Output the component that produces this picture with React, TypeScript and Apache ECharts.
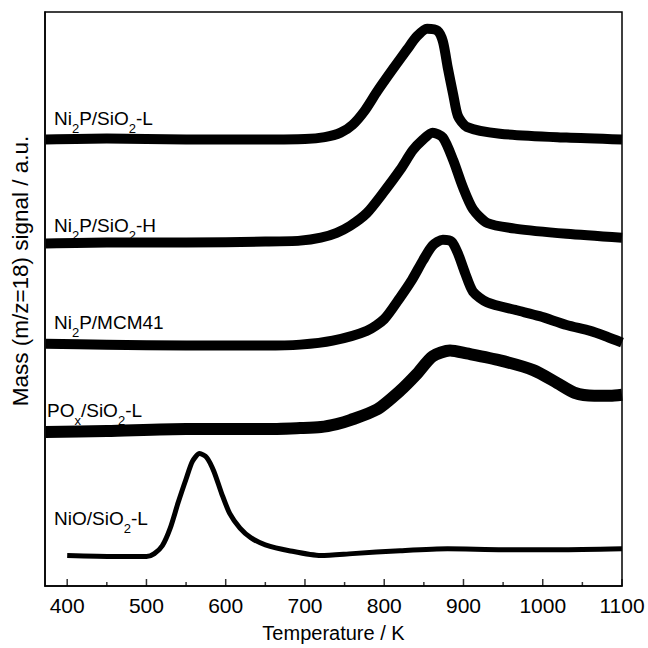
import React, { useEffect, useRef } from "react";
import * as echarts from "echarts";

// Temperature (K) and signal (a.u., stacked offsets)
const tempL = [373, 450, 550, 650, 700, 725, 745, 760, 775, 791, 811, 829, 841, 854, 867, 874, 880, 887, 893, 904, 946, 1030, 1100];
const sigL = [455, 456, 455, 455, 455.5, 457.5, 462, 470, 484, 504, 527, 547, 560, 568, 566, 555, 529, 501, 479, 468, 461, 457, 455];

const tempH = [373, 450, 550, 650, 694, 720, 740, 757, 778, 798, 820, 836, 849, 861, 874, 887, 899, 912, 930, 967, 1030, 1100];
const sigH = [349, 350, 350, 351, 352, 355, 360, 367, 380, 400, 424, 444, 455, 462, 457, 434, 407, 384, 370, 364, 359, 355];

const tempM = [373, 450, 550, 650, 694, 735, 778, 800, 820, 835, 849, 861, 874, 885, 893, 902, 912, 930, 967, 996, 1030, 1060, 1081, 1100];
const sigM = [247, 246, 245, 245, 246, 250, 260, 272, 294, 312, 332, 347, 353, 351, 339, 319, 300, 289, 281, 275, 266, 260, 254, 248];

const tempP = [373, 450, 550, 650, 694, 720, 740, 757, 791, 820, 841, 861, 883, 904, 946, 988, 1018, 1040, 1065, 1085, 1100];
const sigP = [157, 158, 160, 160, 161, 162, 165, 169, 180, 199, 216, 234, 240, 237, 230, 220, 207, 197, 194, 194, 195];

const tempN = [400, 460, 500, 510, 520, 530, 540, 550, 558, 567, 576, 585, 595, 605, 618, 632, 650, 680, 720, 760, 820, 880, 950, 1020, 1100];
const sigN = [31, 30, 30, 33, 41, 59, 85, 109, 127, 135, 131, 117, 94, 74, 59, 49, 42, 36, 31, 33, 36, 38, 37, 37, 38];

const majorTicks = [400, 500, 600, 700, 800, 900, 1000, 1100];
const minorTicks = [450, 550, 650, 750, 850, 950, 1050];

const sampleLabels = [
  "Ni{s|2}P/SiO{s|2}-L",
  "Ni{s|2}P/SiO{s|2}-H",
  "Ni{s|2}P/MCM41",
  "PO{s|x}/SiO{s|2}-L",
  "NiO/SiO{s|2}-L",
];

const FONT = "'Liberation Sans', Arial, sans-serif";

const zip = (xs: number[], ys: number[]) => xs.map((x, i) => [x, ys[i]]);

export default function App() {
  const ref = useRef<HTMLDivElement>(null);
  useEffect(() => {
    document.body.style.margin = "0";
    const chart = echarts.init(ref.current!, null, { renderer: "svg" });
    const lineSeries = (name: string, data: number[][], width: number) => ({
      name,
      type: "line",
      data,
      showSymbol: false,
      symbol: "none",
      smooth: 0.25,
      lineStyle: { color: "#000", width, join: "round", cap: "butt" },
      z: 3,
    });
    const tickSeries = (ticks: number[], len: number) => ({
      type: "scatter",
      data: ticks.map((t) => [t, 0]),
      symbol: "rect",
      symbolSize: [1.5, len],
      symbolOffset: [0, -len / 2],
      itemStyle: { color: "#000" },
      silent: true,
      clip: false,
      z: 5,
    });
    const labelPos = [
      [54, 107],
      [54, 214],
      [54, 311],
      [47, 399],
      [54, 507],
    ];
    chart.setOption({
      animation: false,
      backgroundColor: "#fff",
      grid: { left: 45, right: 26, top: 12, bottom: 51, show: true, borderColor: "#000", borderWidth: 1.5, backgroundColor: "transparent" },
      xAxis: {
        type: "value",
        min: 372,
        max: 1100,
        position: "bottom",
        axisLine: { show: true, lineStyle: { color: "#000", width: 1.5 } },
        axisTick: { show: false },
        axisLabel: { customValues: majorTicks, fontSize: 21, color: "#000", fontFamily: FONT, margin: 9, formatter: (v: number) => String(v) },
        splitLine: { show: false },
        name: "Temperature / K",
        nameLocation: "middle",
        nameGap: 37,
        nameTextStyle: { fontSize: 20, color: "#000", fontFamily: FONT },
      },
      yAxis: {
        type: "value",
        min: 0,
        max: 585,
        axisLine: { show: true, lineStyle: { color: "#000", width: 1.5 } },
        axisTick: { show: false },
        axisLabel: { show: false },
        splitLine: { show: false },
        name: "Mass (m/z=18) signal / a.u.",
        nameLocation: "middle",
        nameGap: 13,
        nameTextStyle: { fontSize: 22.5, color: "#000", fontFamily: FONT, padding: [0, 0, 0, 56] },
      },
      series: [
        lineSeries("Ni2P/SiO2-L", zip(tempL, sigL), 10),
        lineSeries("Ni2P/SiO2-H", zip(tempH, sigH), 10),
        lineSeries("Ni2P/MCM41", zip(tempM, sigM), 10),
        lineSeries("POx/SiO2-L", zip(tempP, sigP), 12),
        lineSeries("NiO/SiO2-L", zip(tempN, sigN), 5),
        tickSeries(majorTicks, 7),
        tickSeries(minorTicks, 4),
      ],
      graphic: sampleLabels.map((t, i) => ({
        type: "text",
        x: labelPos[i][0],
        y: labelPos[i][1],
        z: 10,
        style: {
          text: t,
          fill: "#000",
          fontSize: 19,
          fontFamily: FONT,
          verticalAlign: "top",
          align: "left",
          lineHeight: 22,
          rich: {
            s: { fontSize: 13, lineHeight: 13, padding: [15, 0, 0, 0], verticalAlign: "top", fontFamily: FONT, fill: "#000" },
          },
        },
      })),
    });
    return () => chart.dispose();
  }, []);
  return <div ref={ref} style={{ width: 648, height: 648 }} />;
}
